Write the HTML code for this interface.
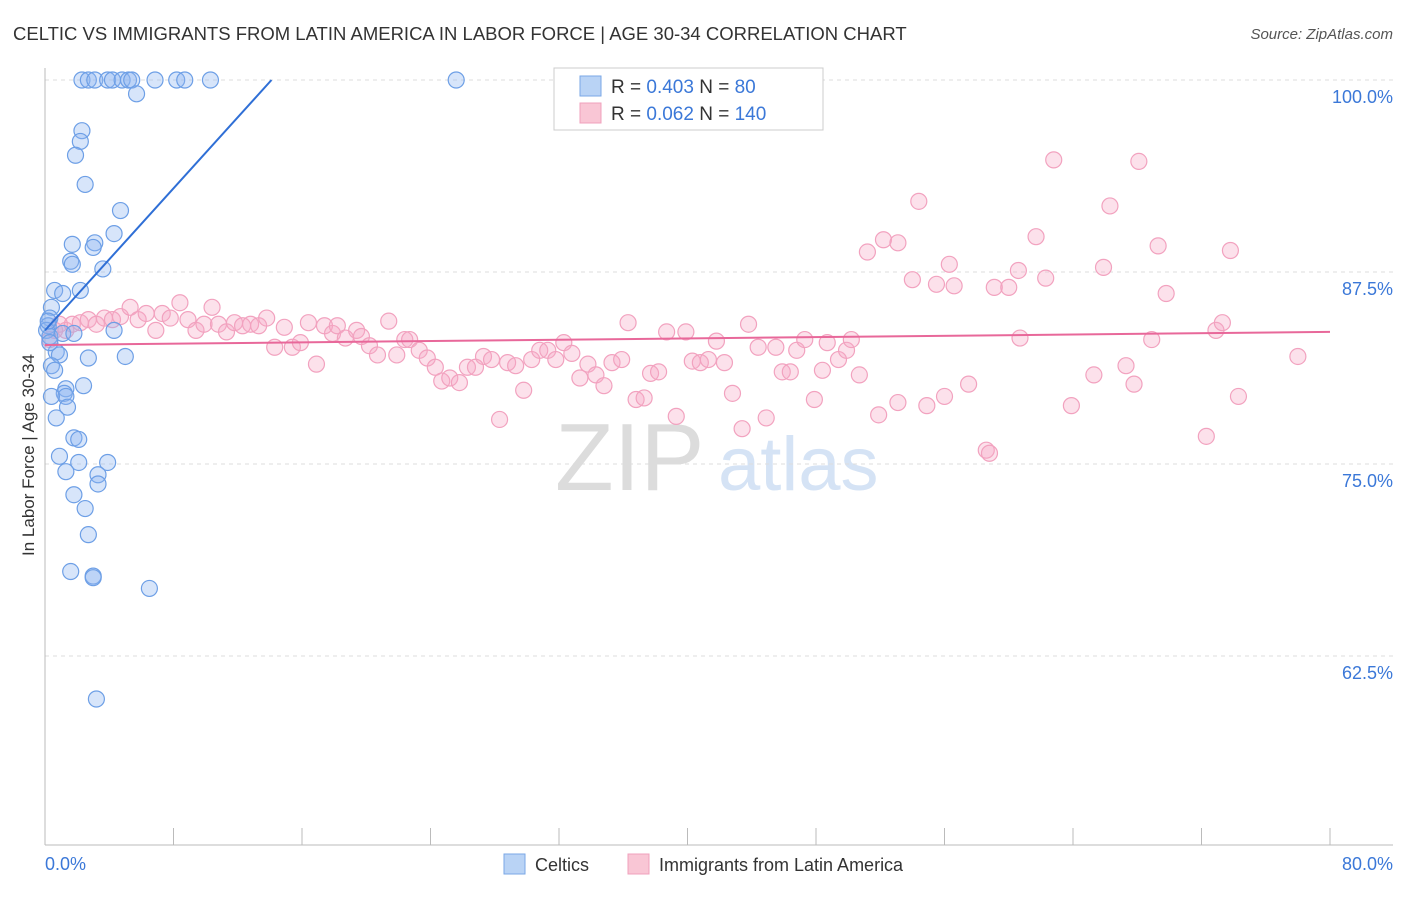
<!DOCTYPE html>
<html><head><meta charset="utf-8">
<style>
body{margin:0;background:#fff;font-family:"Liberation Sans",sans-serif;}
svg text{font-family:"Liberation Sans",sans-serif;}
</style></head>
<body>
<svg id="chart" width="1406" height="892" xmlns="http://www.w3.org/2000/svg">
<text x="13" y="40" font-size="18.5" fill="#333">CELTIC VS IMMIGRANTS FROM LATIN AMERICA IN LABOR FORCE | AGE 30-34 CORRELATION CHART</text>
<text x="1393" y="39" font-size="15" fill="#555" text-anchor="end" font-style="italic">Source: ZipAtlas.com</text>
<g>
<text x="555" y="490" font-size="96" fill="#dcdcdc" font-family="Liberation Serif,serif">ZIP</text>
<text x="718" y="490" font-size="76" fill="#d5e3f5">atlas</text>
</g>
<g id="grid"></g>
<g id="axes"></g>
<g id="pts"></g>
<g id="trends"></g>
<text transform="translate(34,455) rotate(-90)" font-size="17" fill="#333" text-anchor="middle">In Labor Force | Age 30-34</text>
<g>
<rect x="554" y="68" width="269" height="62" fill="#fff" stroke="#ccc"/>
<rect x="580" y="76" width="21" height="20" fill="#b9d3f5" stroke="#7aa7e6"/>
<rect x="580" y="103" width="21" height="20" fill="#f9c6d5" stroke="#f0a0bc"/>
<text x="611" y="93" font-size="19" fill="#333">R = <tspan fill="#3b78d8">0.403</tspan>   N =  <tspan fill="#3b78d8">80</tspan></text>
<text x="611" y="120" font-size="19" fill="#333">R = <tspan fill="#3b78d8">0.062</tspan>   N = <tspan fill="#3b78d8">140</tspan></text>
</g>
<g>
<rect x="504" y="854" width="21" height="20" fill="#b9d3f5" stroke="#7aa7e6"/>
<text x="535" y="871" font-size="18" fill="#333">Celtics</text>
<rect x="628" y="854" width="21" height="20" fill="#f9c6d5" stroke="#f0a0bc"/>
<text x="659" y="871" font-size="18" fill="#333">Immigrants from Latin America</text>
</g>
</svg>
<script>
const xTicks=[0,8,16,24,32,40,48,56,64,72,80];
const yTicks=[62.5,75,87.5,100];
const yTickLabels=["62.5%","75.0%","87.5%","100.0%"];
const blueTrend=[[0,83.7],[14.1,100]];
const pinkTrend=[[0,82.75],[80,83.6]];
const blueX=[2.3,2.7,3.1,3.9,4.2,4.8,5.2,5.4,6.85,8.2,8.7,10.3,25.6,5.7,2.3,2.2,1.9,2.5,4.7,4.3,1.7,3.1,3.0,1.6,1.7,3.6,0.6,1.1,2.2,0.4,0.3,0.2,0.1,0.3,1.1,1.8,4.3,0.7,0.9,2.7,5.0,0.4,0.6,2.4,1.3,1.2,1.3,1.4,0.4,0.7,1.8,2.1,0.9,2.1,1.3,3.9,3.3,3.3,1.8,2.5,2.7,1.6,3.0,3.0,6.5,3.2,0.2,0.3];
const blueY=[100,100,100,100,100,100,100,100,100,100,100,100,100,99.1,96.7,96.0,95.1,93.2,91.5,90.0,89.3,89.4,89.1,88.2,88.0,87.7,86.3,86.1,86.3,85.2,84.5,84.0,83.7,83.3,83.5,83.5,83.7,82.3,82.1,81.9,82.0,81.4,81.1,80.1,79.9,79.6,79.4,78.7,79.4,78.0,76.7,76.6,75.5,75.1,74.5,75.1,74.3,73.7,73.0,72.1,70.4,68.0,67.7,67.6,66.9,59.7,84.3,82.9];
const pinkX=[0.3,0.6,0.9,1.3,1.7,2.2,2.7,3.2,3.7,4.2,4.7,5.3,5.8,6.3,6.9,7.3,7.8,8.4,8.9,9.4,9.9,10.4,10.8,11.3,11.8,12.3,12.8,13.3,13.8,14.3,14.9,15.4,15.9,16.4,16.9,17.4,17.9,18.2,18.7,19.4,19.7,20.2,20.7,21.4,21.9,22.4,22.7,23.3,23.8,24.3,24.7,25.2,25.8,26.3,26.8,27.3,27.8,28.3,28.8,29.3,29.8,30.3,30.8,31.3,31.8,32.3,32.8,33.3,33.8,34.3,34.8,35.3,35.9,36.3,36.8,37.3,37.7,38.2,38.7,39.3,39.9,40.3,40.8,41.3,41.8,42.3,42.8,43.4,43.8,44.4,44.9,45.5,45.9,46.4,46.8,47.3,47.9,48.4,48.7,49.4,49.9,50.2,50.7,51.2,51.9,52.2,53.1,53.1,54.0,54.4,54.9,55.5,56.0,56.3,56.6,57.5,58.6,58.8,59.1,60.0,60.6,60.7,61.7,62.3,62.8,63.9,65.3,65.9,66.3,67.3,67.8,68.1,68.9,69.3,69.8,72.3,72.9,73.3,73.8,74.3,78.0];
const pinkY=[83.1,83.7,84.1,83.7,84.1,84.2,84.4,84.1,84.5,84.4,84.6,85.2,84.4,84.8,83.7,84.8,84.5,85.5,84.4,83.7,84.1,85.2,84.1,83.6,84.2,84.0,84.1,84.0,84.5,82.6,83.9,82.6,82.9,84.2,81.5,84.0,83.5,84.0,83.2,83.7,83.3,82.7,82.1,84.3,82.1,83.1,83.1,82.4,81.9,81.3,80.4,80.6,80.3,81.3,81.3,82.0,81.8,77.9,81.6,81.4,79.8,81.8,82.4,82.4,81.8,82.9,82.2,80.6,81.5,80.8,80.1,81.6,81.8,84.2,79.2,79.3,80.9,81.0,83.6,78.1,83.6,81.7,81.6,81.8,83.0,81.6,79.6,77.3,84.1,82.6,78.0,82.6,81.0,81.0,82.4,83.1,79.2,81.1,82.9,81.8,82.4,83.1,80.8,88.8,78.2,89.6,89.4,79.0,87.0,92.1,78.8,86.7,79.4,88.0,86.6,80.2,75.9,75.7,86.5,86.5,87.6,83.2,89.8,87.1,94.8,78.8,80.8,87.8,91.8,81.4,80.2,94.7,83.1,89.2,86.1,76.8,83.7,84.2,88.9,79.4,82.0];

const NS="http://www.w3.org/2000/svg";
const X0=45,X1=1330,Y100=80,PX125=192;
function sx(v){return X0+(v/80)*(X1-X0);}
function sy(v){return Y100+(100-v)/12.5*PX125;}
function mk(tag,attrs,parent){const e=document.createElementNS(NS,tag);for(const k in attrs)e.setAttribute(k,attrs[k]);parent.appendChild(e);return e;}
const grid=document.getElementById('grid'),axes=document.getElementById('axes'),pts=document.getElementById('pts'),trends=document.getElementById('trends');
yTicks.forEach((t,i)=>{
  const l=mk('line',{x1:X0,x2:1393,y1:sy(t),y2:sy(t),stroke:'#ddd','stroke-dasharray':'4,4'},grid);
  
  
  const tx=mk('text',{x:1393,y:sy(t)+23,'font-size':18,fill:'#3b78d8','text-anchor':'end'},axes);
  tx.textContent=yTickLabels[i];
  
  
});
const ax=mk('line',{x1:X0,x2:1393,y1:845,y2:845,stroke:'#bbb'},axes);


const ay=mk('line',{x1:X0,x2:X0,y1:68,y2:845,stroke:'#bbb'},axes);


xTicks.forEach(t=>{
  const l=mk('line',{x1:sx(t),x2:sx(t),y1:828,y2:845,stroke:'#bbb'},axes);
  
  
});
const xl0=mk('text',{x:45,y:870,'font-size':18,fill:'#3b78d8'},axes);xl0.textContent='0.0%';


const xl1=mk('text',{x:1393,y:870,'font-size':18,fill:'#3b78d8','text-anchor':'end'},axes);xl1.textContent='80.0%';


pinkX.forEach((x,i)=>{
  const c=mk('circle',{cx:sx(x),cy:sy(pinkY[i]),r:8,fill:'rgba(246,170,198,0.35)',stroke:'#f2a2bf','stroke-width':1.2},pts);
  
  
});
blueX.forEach((x,i)=>{
  const c=mk('circle',{cx:sx(x),cy:sy(blueY[i]),r:8,fill:'rgba(140,180,240,0.35)',stroke:'#6d9fe6','stroke-width':1.2},pts);
  
  
});
const bl=mk('line',{x1:sx(blueTrend[0][0]),y1:sy(blueTrend[0][1]),x2:sx(blueTrend[1][0]),y2:sy(blueTrend[1][1]),stroke:'#2f6fd6','stroke-width':2},trends);


const pl=mk('line',{x1:sx(pinkTrend[0][0]),y1:sy(pinkTrend[0][1]),x2:sx(pinkTrend[1][0]),y2:sy(pinkTrend[1][1]),stroke:'#e8689a','stroke-width':2},trends);


</script>
</body></html>
